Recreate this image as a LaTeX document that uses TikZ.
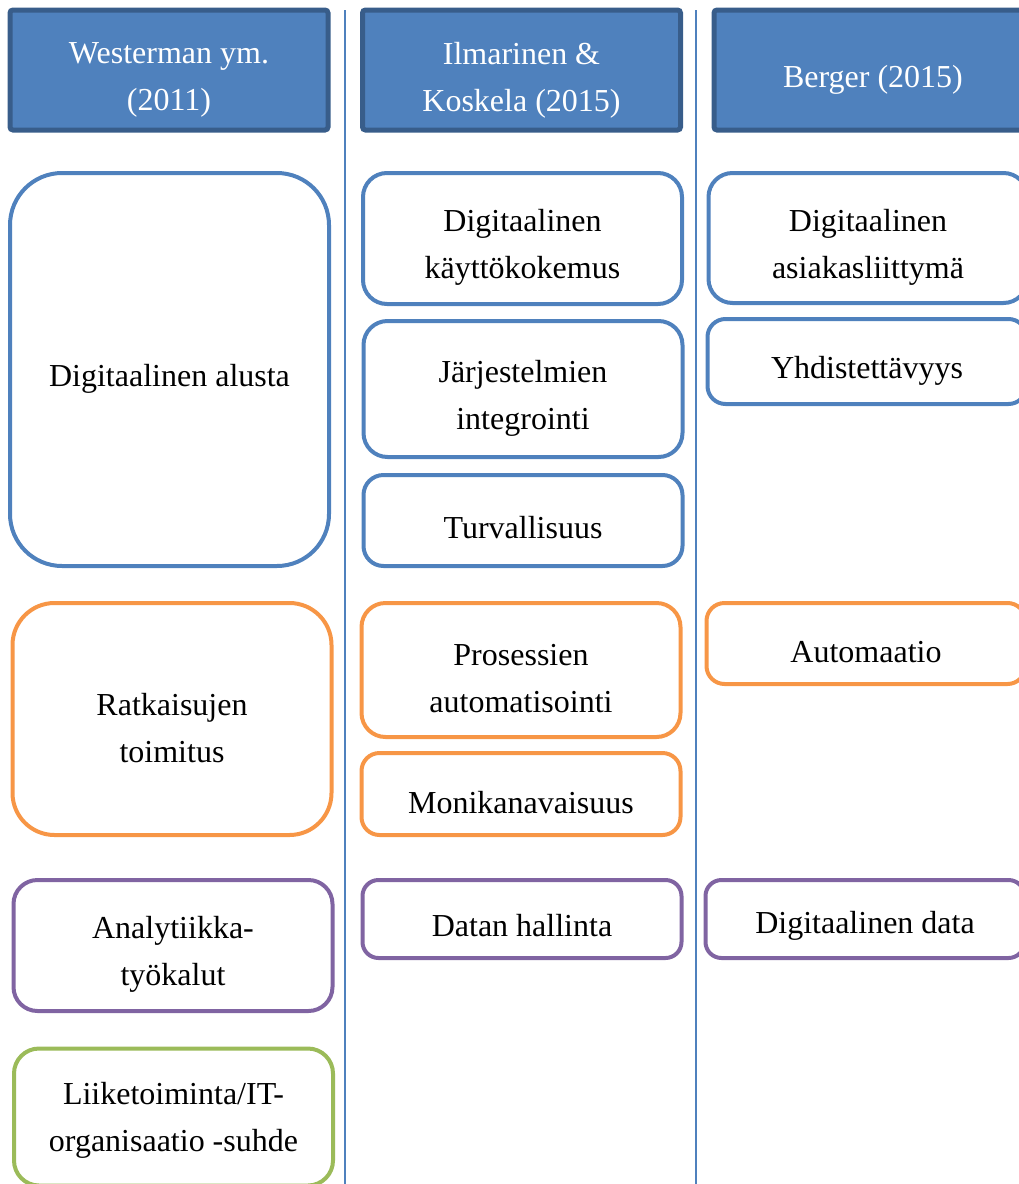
\documentclass[tikz,border=0pt]{standalone}
\usepackage{fontspec}
\setmainfont{Liberation Serif}
\usetikzlibrary{positioning}

\definecolor{hdrfill}{HTML}{4F81BD}
\definecolor{hdrline}{HTML}{385D8A}
\definecolor{cblue}{HTML}{4F81BD}
\definecolor{corange}{HTML}{F79646}
\definecolor{cpurple}{HTML}{8064A2}
\definecolor{cgreen}{HTML}{9BBB59}

\begin{document}
\begin{tikzpicture}[x=1pt, y=-1pt,
  every node/.style={font=\fontsize{32}{47}\selectfont, align=center, inner sep=0pt},
  hdr/.style={draw=hdrline, fill=hdrfill, line width=5pt, rounded corners=3pt,
    minimum width=318pt, minimum height=120pt,
    label={[yshift=-10pt, text=white]center:#1}},
  blk/.style={draw=#1, fill=white, line width=4pt, minimum width=319pt},
  txtat/.style 2 args={label={[yshift=#1]center:#2}},
  txt/.style={txtat={-9pt}{#1}},
  sepline/.style={draw=cblue, line width=1.4pt}]
  \useasboundingbox (0,0) rectangle (1019,1184);
  %
  % separators between the columns
  \foreach \sx [count=\i] in {345,696} {
    \coordinate (s\i top) at (\sx,10);
    \coordinate (s\i bot) at (\sx,1190);
    \draw [sepline] (s\i top) -- (s\i bot);
  }
  %
  % column headers
  \node [hdr={Westerman ym.\\(2011)}] (hwest) at (169,70) {};
  \node [hdr={Ilmarinen \&\\Koskela (2015)}] (hilma) at (521.5,70) {};
  \node [hdr={Berger (2015)}] (hberg) at (873,70) {};
  %
  % Westerman
  \node [blk=cblue, minimum height=393pt, rounded corners=52pt,
    txt={Digitaalinen alusta}] (walusta) at (169.5,369.5) {};
  \node [blk=corange, minimum height=232pt, rounded corners=42pt,
    txt={Ratkaisujen\\toimitus}] (wtoim) at (172,719) {};
  \node [blk=cpurple, minimum height=131pt, rounded corners=24pt,
    txt={Analytiikka-\\työkalut}] (wanal) at (173,945.5) {};
  \node [blk=cgreen, minimum height=137pt, rounded corners=25pt,
    txtat={-3pt}{Liiketoiminta/IT-\\organisaatio -suhde}] (wliike) at (173.5,1117) {};
  %
  % Ilmarinen & Koskela
  \node [blk=cblue, minimum height=131pt, rounded corners=24pt,
    txt={Digitaalinen\\käyttökokemus}] (ikaytto) at (522.5,238.5) {};
  \node [blk=cblue, minimum height=136pt, rounded corners=24pt,
    txt={Järjestelmien\\integrointi}] (iinteg) at (523,389) {};
  \node [blk=cblue, minimum height=91pt, rounded corners=20pt,
    txtat={-7pt}{Turvallisuus}] (iturva) at (523,520.5) {};
  \node [blk=corange, minimum height=134pt, rounded corners=24pt,
    txt={Prosessien\\automatisointi}] (iproses) at (521,670) {};
  \node [blk=corange, minimum height=82pt, rounded corners=18pt,
    txt={Monikanavaisuus}] (imoni) at (521,794) {};
  \node [blk=cpurple, minimum height=78pt, rounded corners=16pt,
    txtat={-7pt}{Datan hallinta}] (idata) at (522,919) {};
  %
  % Berger
  \node [blk=cblue, minimum height=130pt, rounded corners=24pt,
    txt={Digitaalinen\\asiakasliittymä}] (basiak) at (868,238) {};
  \node [blk=cblue, minimum height=85pt, rounded corners=18pt,
    txt={Yhdistettävyys}] (byhd) at (867,361.5) {};
  \node [blk=corange, minimum height=81pt, rounded corners=18pt,
    txt={Automaatio}] (bauto) at (866,643.5) {};
  \node [blk=cpurple, minimum height=78pt, rounded corners=16pt,
    txtat={-7pt}{Digitaalinen data}] (bdata) at (865,919) {};
\end{tikzpicture}
\end{document}
